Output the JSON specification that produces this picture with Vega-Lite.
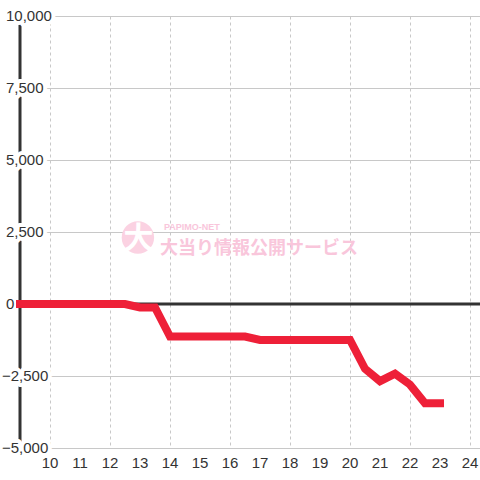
{
  "$schema": "https://vega.github.io/schema/vega-lite/v6.json",
  "width": 460,
  "height": 432,
  "autosize": {"type": "none"},
  "padding": {"left": 20, "top": 16, "right": 0, "bottom": 32},
  "background": "white",
  "config": {"view": {"stroke": null}, "font": "Liberation Sans"},
  "data": {"values": [{}]},
  "datasets": {
    "series": [
      {"hour": 9, "value": 0},
      {"hour": 9.5, "value": 0},
      {"hour": 10, "value": 0},
      {"hour": 10.5, "value": 0},
      {"hour": 11, "value": 0},
      {"hour": 11.5, "value": 0},
      {"hour": 12, "value": 0},
      {"hour": 12.5, "value": 0},
      {"hour": 13, "value": -120},
      {"hour": 13.5, "value": -120},
      {"hour": 14, "value": -1130},
      {"hour": 14.5, "value": -1130},
      {"hour": 15, "value": -1130},
      {"hour": 15.5, "value": -1130},
      {"hour": 16, "value": -1130},
      {"hour": 16.5, "value": -1130},
      {"hour": 17, "value": -1250},
      {"hour": 17.5, "value": -1250},
      {"hour": 18, "value": -1250},
      {"hour": 18.5, "value": -1250},
      {"hour": 19, "value": -1250},
      {"hour": 19.5, "value": -1250},
      {"hour": 20, "value": -1250},
      {"hour": 20.5, "value": -2250},
      {"hour": 21, "value": -2680},
      {"hour": 21.5, "value": -2420},
      {"hour": 22, "value": -2800},
      {"hour": 22.5, "value": -3450},
      {"hour": 23, "value": -3450}
    ],
    "ylabels": [
      {"v": 10000}, {"v": 7500}, {"v": 5000}, {"v": 2500}, {"v": 0}, {"v": -2500}, {"v": -5000}
    ],
    "xlabels": [
      {"h": 10}, {"h": 11}, {"h": 12}, {"h": 13}, {"h": 14}, {"h": 15}, {"h": 16}, {"h": 17},
      {"h": 18}, {"h": 19}, {"h": 20}, {"h": 21}, {"h": 22}, {"h": 23}, {"h": 24}
    ]
  },
  "layer": [
    {
      "mark": {"type": "rule", "color": "#cccccc", "strokeWidth": 0},
      "encoding": {
        "x": {
          "datum": 9, "type": "quantitative",
          "scale": {"domain": [9, 24.333], "nice": false, "zero": false},
          "axis": {
            "values": [10, 11, 12, 13, 14, 15, 16, 17, 18, 19, 20, 21, 22, 23, 24],
            "grid": true, "gridColor": "#c8c8c8", "gridDash": [3, 3], "gridWidth": 1,
            "domain": false, "ticks": false, "labels": false, "title": null
          }
        },
        "y": {
          "datum": 0, "type": "quantitative",
          "scale": {"domain": [-5000, 10000], "nice": false, "zero": false},
          "axis": {
            "values": [-5000, -3750, -2500, -1250, 0, 1250, 2500, 3750, 5000, 6250, 7500, 8750, 10000],
            "grid": true, "gridColor": "#c8c8c8", "gridWidth": 1,
            "domain": false, "ticks": false, "labels": false, "title": null
          }
        }
      }
    },
    {
      "mark": {"type": "rule", "color": "#333333", "strokeWidth": 3},
      "encoding": {"x": {"datum": 9, "type": "quantitative"}}
    },
    {
      "mark": {"type": "circle", "color": "#fbd2e2", "opacity": 1, "size": 1050},
      "encoding": {
        "x": {"datum": 12.93, "type": "quantitative"},
        "y": {"datum": 2310, "type": "quantitative"}
      }
    },
    {
      "mark": {"type": "text", "text": "大", "font": "Noto Sans CJK JP", "fontWeight": "bold", "fontSize": 30, "color": "white", "align": "center", "baseline": "middle"},
      "encoding": {
        "x": {"datum": 12.95, "type": "quantitative"},
        "y": {"datum": 2240, "type": "quantitative"}
      }
    },
    {
      "mark": {"type": "text", "text": "PAPIMO-NET", "font": "Liberation Sans", "fontWeight": "bold", "fontSize": 9, "color": "#f9c6db", "align": "left", "baseline": "middle"},
      "encoding": {
        "x": {"datum": 13.8, "type": "quantitative"},
        "y": {"datum": 2670, "type": "quantitative"}
      }
    },
    {
      "mark": {"type": "text", "text": "大当り情報公開サービス", "font": "Noto Sans CJK JP", "fontWeight": "bold", "fontSize": 18, "color": "#f9c6db", "align": "left", "baseline": "middle"},
      "encoding": {
        "x": {"datum": 13.67, "type": "quantitative"},
        "y": {"datum": 1910, "type": "quantitative"}
      }
    },
    {
      "mark": {"type": "rule", "color": "#333333", "strokeWidth": 3},
      "encoding": {"y": {"datum": 0, "type": "quantitative"}}
    },
    {
      "data": {"name": "xlabels"},
      "mark": {"type": "text", "align": "center", "baseline": "middle", "dy": 15, "fontSize": 15, "font": "Liberation Sans", "color": "#333333"},
      "encoding": {
        "x": {"field": "h", "type": "quantitative"},
        "y": {"datum": -5000, "type": "quantitative"},
        "text": {"field": "h", "type": "quantitative"}
      }
    },
    {
      "data": {"name": "ylabels"},
      "transform": [{"filter": "datum.v >= 0"}],
      "mark": {"type": "text", "align": "left", "baseline": "middle", "dx": -14, "fontSize": 15, "font": "Liberation Sans", "color": "white", "stroke": "white", "strokeWidth": 8, "strokeJoin": "round"},
      "encoding": {
        "x": {"datum": 9, "type": "quantitative"},
        "y": {"field": "v", "type": "quantitative"},
        "text": {"field": "v", "type": "quantitative", "format": ","}
      }
    },
    {
      "data": {"name": "ylabels"},
      "transform": [{"filter": "datum.v < 0"}],
      "mark": {"type": "text", "align": "left", "baseline": "middle", "dx": -18, "fontSize": 15, "font": "Liberation Sans", "color": "white", "stroke": "white", "strokeWidth": 8, "strokeJoin": "round"},
      "encoding": {
        "x": {"datum": 9, "type": "quantitative"},
        "y": {"field": "v", "type": "quantitative"},
        "text": {"field": "v", "type": "quantitative", "format": ","}
      }
    },
    {
      "data": {"name": "ylabels"},
      "transform": [{"filter": "datum.v >= 0"}],
      "mark": {"type": "text", "align": "left", "baseline": "middle", "dx": -14, "fontSize": 15, "font": "Liberation Sans", "color": "#333333"},
      "encoding": {
        "x": {"datum": 9, "type": "quantitative"},
        "y": {"field": "v", "type": "quantitative"},
        "text": {"field": "v", "type": "quantitative", "format": ","}
      }
    },
    {
      "data": {"name": "ylabels"},
      "transform": [{"filter": "datum.v < 0"}],
      "mark": {"type": "text", "align": "left", "baseline": "middle", "dx": -18, "fontSize": 15, "font": "Liberation Sans", "color": "#333333"},
      "encoding": {
        "x": {"datum": 9, "type": "quantitative"},
        "y": {"field": "v", "type": "quantitative"},
        "text": {"field": "v", "type": "quantitative", "format": ","}
      }
    },
    {
      "data": {"name": "series"},
      "mark": {"type": "line", "color": "#ee2038", "strokeWidth": 8, "strokeCap": "square", "strokeJoin": "miter"},
      "encoding": {
        "x": {"field": "hour", "type": "quantitative"},
        "y": {"field": "value", "type": "quantitative"}
      }
    }
  ]
}
